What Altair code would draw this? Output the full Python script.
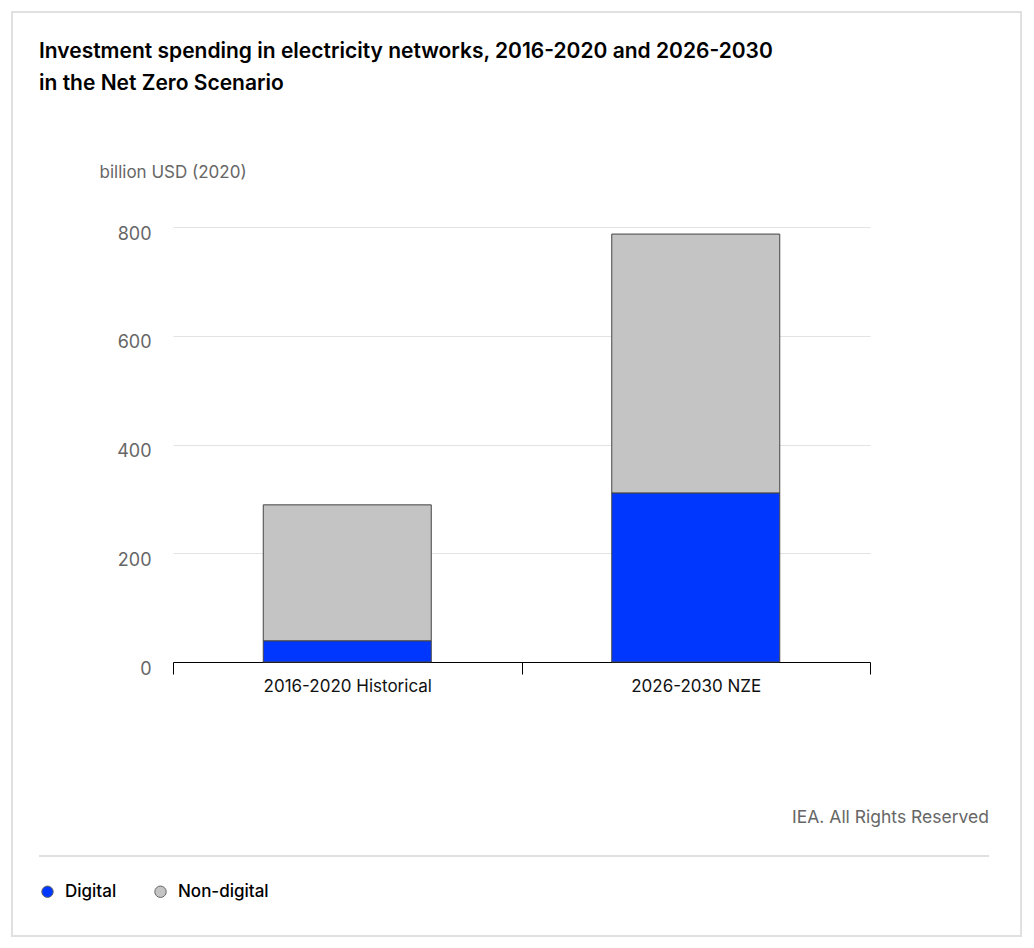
import altair as alt
import pandas as pd

periods = ["2016-2020 Historical", "2026-2030 NZE"]
digital = [39, 311]
non_digital = [250, 476]
series = ["Digital", "Non-digital"]
colors = ["#0037FF", "#C4C4C4"]
title_lines = ["Investment spending in electricity networks, 2016-2020 and 2026-2030",
               "in the Net Zero Scenario"]
y_title = "billion USD (2020)"
credit = "IEA. All Rights Reserved"

rows = []
for p, d, n in zip(periods, digital, non_digital):
    rows.append({"period": p, "series": "Digital", "value": d, "ord": 0})
    rows.append({"period": p, "series": "Non-digital", "value": n, "ord": 1})
df = pd.DataFrame(rows)

FONT = "Inter"
W, H = 697, 435
L, T = 173, 227

bars = alt.Chart(df).mark_bar(size=168, stroke="#444444", strokeWidth=1).encode(
    x=alt.X("period:N", sort=periods,
            scale=alt.Scale(paddingInner=0, paddingOuter=0),
            axis=alt.Axis(title=None, labelAngle=0, domainColor="#000000", tickColor="#000000",
                          tickSize=12, tickBand="extent", labelFontSize=17, labelColor="#111111",
                          labelFont=FONT, labelPadding=4, grid=False)),
    y=alt.Y("value:Q", stack="zero",
            scale=alt.Scale(domain=[0, 800]),
            axis=alt.Axis(values=[0, 200, 400, 600, 800], title=y_title, titleAngle=0,
                          titleAlign="left", titleBaseline="middle", titleX=-74, titleY=-55,
                          titleFontSize=17, titleFontWeight="normal", titleColor="#666666",
                          titleFont=FONT, domain=False, ticks=False, labelFontSize=18,
                          labelColor="#666666", labelFont=FONT, labelPadding=22, labelOffset=7,
                          gridColor="#e3e3e3", gridWidth=1)),
    color=alt.Color("series:N", sort=series,
                    scale=alt.Scale(domain=series, range=colors),
                    legend=alt.Legend(title=None, orient="none", legendX=-134, legendY=656,
                                      direction="horizontal", symbolType="circle", symbolSize=130,
                                      symbolStrokeColor="#666666", symbolStrokeWidth=1,
                                      labelFontSize=17, labelFont=FONT, labelFontWeight=500,
                                      labelColor="#000000", labelOffset=9, columnPadding=35)),
    order=alt.Order("ord:Q"),
)

credit_df = pd.DataFrame({"t": [credit]})
credit_text = alt.Chart(credit_df).mark_text(
    align="right", baseline="middle", fontSize=17.5, font=FONT, color="#666666"
).encode(x=alt.value(816), y=alt.value(591), text="t:N")

sep = alt.Chart(credit_df).mark_rule(color="#e0e0e0", strokeWidth=2).encode(
    x=alt.value(-134), x2=alt.value(816), y=alt.value(629))

border = alt.Chart(credit_df).mark_rect(fill=None, stroke="#e0e0e0", strokeWidth=2).encode(
    x=alt.value(12 - L), x2=alt.value(1021 - L), y=alt.value(12 - T), y2=alt.value(936 - T))

chart = alt.layer(border, bars, sep, credit_text).properties(
    width=W, height=H,
    background="#ffffff",
    title=alt.TitleParams(text=title_lines, anchor="start", frame="group", dx=-134, dy=83,
                          fontSize=21, fontWeight=600, font=FONT, color="#000000",
                          lineHeight=32, offset=0),
    autosize=alt.AutoSizeParams(type="none"),
    padding={"left": L, "top": T, "right": 1034 - L - W, "bottom": 948 - T - H},
).configure_view(strokeWidth=0)

chart.save("out.html", embed_options={"renderer": "svg", "actions": False})
